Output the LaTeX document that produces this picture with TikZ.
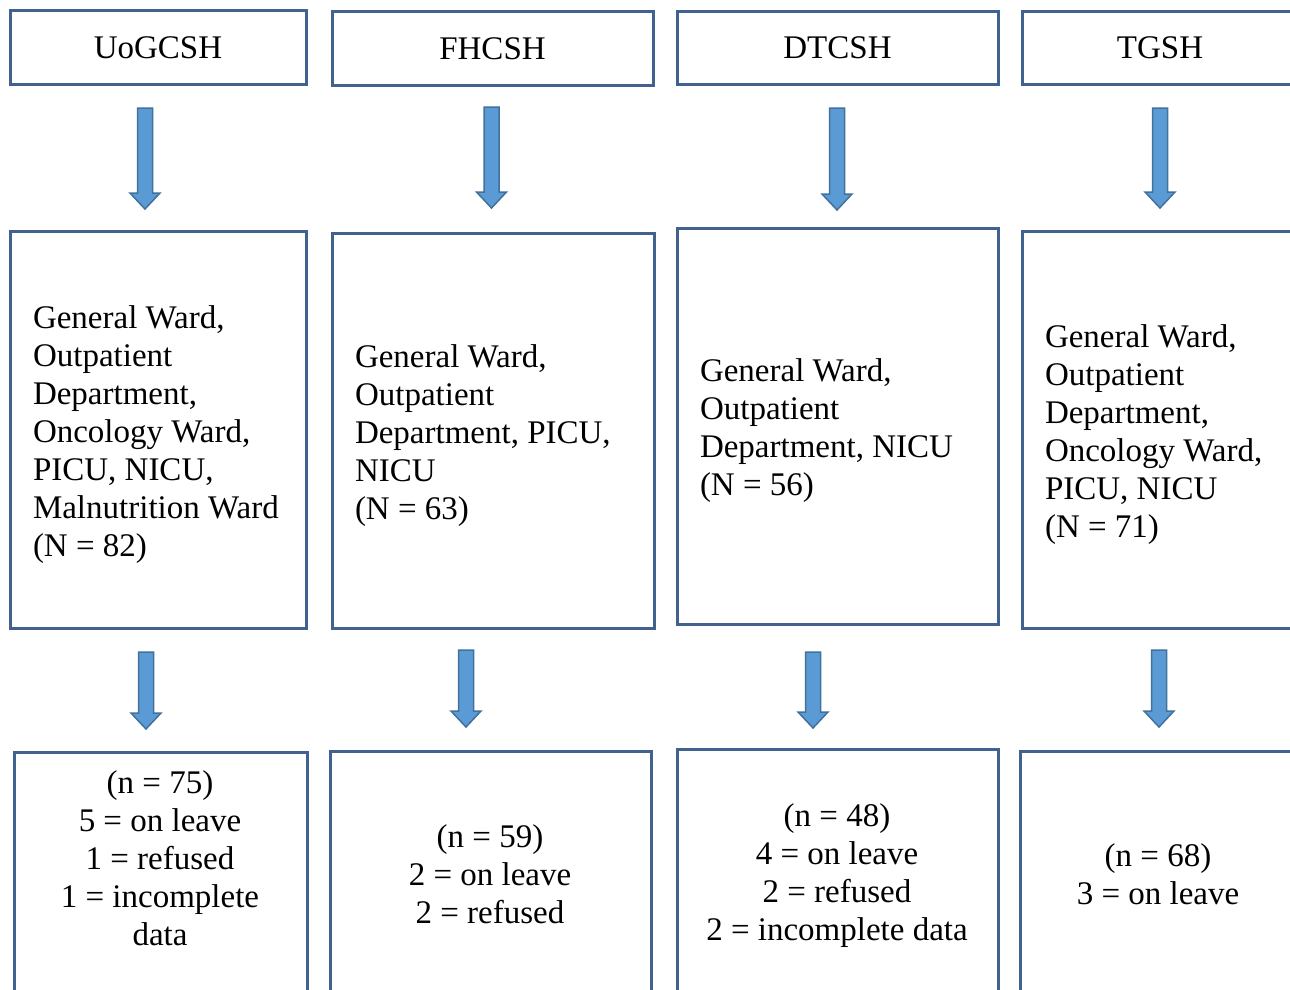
\documentclass[tikz,border=0pt]{standalone}
\usepackage{fontspec}
\setmainfont{Liberation Serif}
\usetikzlibrary{calc}
\definecolor{boxline}{HTML}{41628F}
\definecolor{arrowfill}{HTML}{5B9BD5}
\definecolor{arrowline}{HTML}{41719C}
\tikzset{
  hdrbox/.style={draw=boxline, line width=3pt, fill=white, inner sep=0pt, align=center,
    font=\fontsize{33}{38}\selectfont},
  midbox/.style={draw=boxline, line width=3pt, fill=white, inner xsep=23pt, inner ysep=0pt,
    align=flush left, font=\fontsize{33}{38}\selectfont,
    execute at begin node={\rule{0pt}{33pt}}},
  lowbox/.style={draw=boxline, line width=3pt, fill=white, inner sep=0pt},
  lowtext/.style={inner sep=0pt, align=center, font=\fontsize{33}{38}\selectfont},
  bluearrow/.style={fill=arrowfill, draw=arrowline, line width=1.5pt, line join=miter},
}
% block arrow: name prefix, x, ytop, ytip
\newcommand\blockarrow[4]{%
  \coordinate (#1s) at (#2,#3);
  \coordinate (#1e) at (#2,#4);
  \path[bluearrow] ($(#1s)+(-7.5,0)$) -- ($(#1s)+(7.5,0)$) -- ($(#1e)+(7.5,-16)$)
    -- ($(#1e)+(15,-16)$) -- (#1e) -- ($(#1e)+(-15,-16)$) -- ($(#1e)+(-7.5,-16)$) -- cycle;
}
\begin{document}
\begin{tikzpicture}[x=1pt,y=-1pt]
\useasboundingbox (0,0) rectangle (1290,989);
\clip (0,0) rectangle (1290,989);
\fill[white] (0,0) rectangle (1290,989);

% header boxes
\node[hdrbox, minimum width=296pt, minimum height=74pt] (h1) at (158,47.5) {UoGCSH};
\node[hdrbox, minimum width=321pt, minimum height=74pt] (h2) at (492.5,48.5) {FHCSH};
\node[hdrbox, minimum width=321pt, minimum height=73pt] (h3) at (837.5,48) {DTCSH};
\node[hdrbox, minimum width=276pt, minimum height=73pt] (h4) at (1160,48) {TGSH};

% middle boxes
\node[midbox, text width=250pt, minimum height=397pt] (m1) at (158,429.5)
  {General Ward,\\Outpatient\\Department,\\Oncology Ward,\\PICU, NICU,\\Malnutrition Ward\\(N = 82)};
\node[midbox, text width=276pt, minimum height=395pt] (m2) at (493,430.5)
  {General Ward,\\Outpatient\\Department, PICU,\\NICU\\(N = 63)};
\node[midbox, text width=275pt, minimum height=396pt] (m3) at (837.5,426)
  {General Ward,\\Outpatient\\Department, NICU\\(N = 56)};
\node[midbox, text width=230pt, minimum height=397pt] (m4) at (1160,429.5)
  {General Ward,\\Outpatient\\Department,\\Oncology Ward,\\PICU, NICU\\(N = 71)};

% lower boxes
\node[lowbox, minimum width=293pt, minimum height=250pt] (l1) at (160.5,877) {};
\node[lowbox, minimum width=321pt, minimum height=250pt] (l2) at (490.5,876) {};
\node[lowbox, minimum width=321pt, minimum height=250pt] (l3) at (837.5,874) {};
\node[lowbox, minimum width=278pt, minimum height=250pt] (l4) at (1159,876) {};

\node[lowtext] (t1) at (160,858.5) {(n = 75)\\5 = on leave\\1 = refused\\1 = incomplete\\data};
\node[lowtext] (t2) at (490,874) {(n = 59)\\2 = on leave\\2 = refused};
\node[lowtext] (t3) at (837,876) {(n = 48)\\4 = on leave\\2 = refused\\2 = incomplete data};
\node[lowtext] (t4) at (1158,874) {(n = 68)\\3 = on leave};

% arrows
\blockarrow{a1}{145}{108}{209}
\blockarrow{a2}{491.5}{107}{208}
\blockarrow{a3}{837}{108}{210}
\blockarrow{a4}{1160}{108}{208}
\blockarrow{b1}{146}{652}{729}
\blockarrow{b2}{466}{650}{727}
\blockarrow{b3}{813}{652}{728}
\blockarrow{b4}{1159}{650}{727}
\end{tikzpicture}
\end{document}
